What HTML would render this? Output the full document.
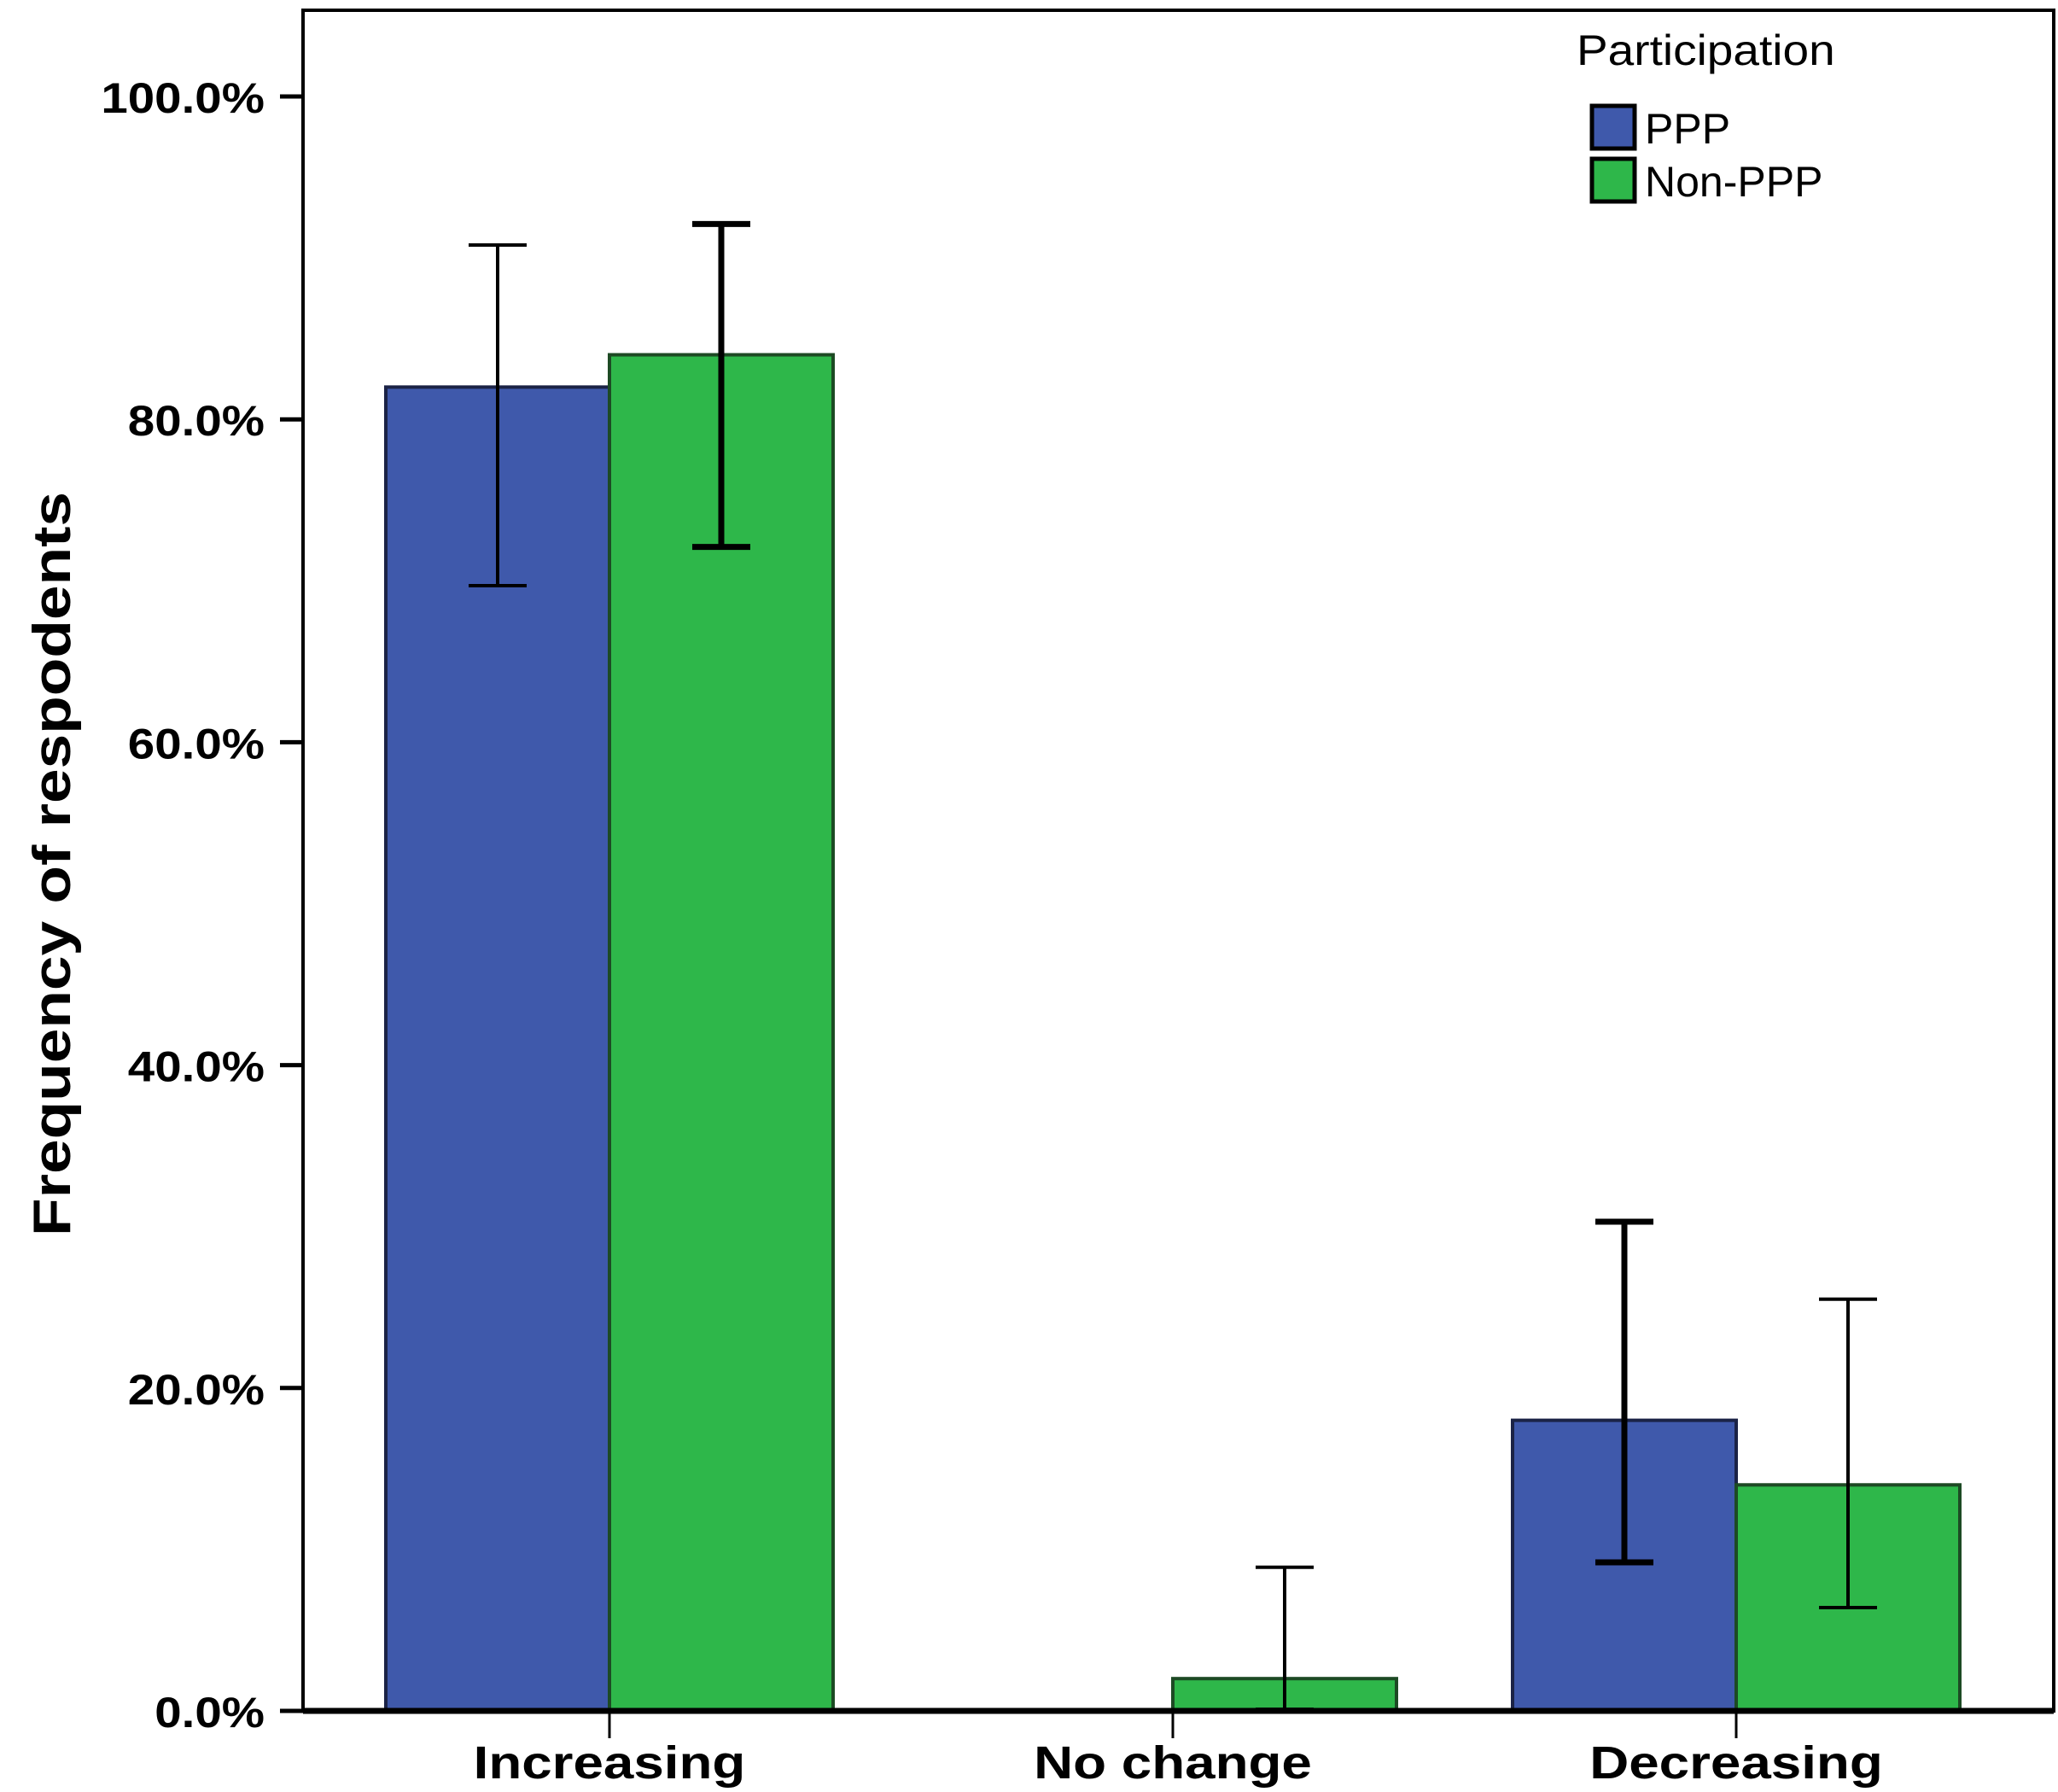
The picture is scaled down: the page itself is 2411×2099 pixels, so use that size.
<!DOCTYPE html>
<html><head><meta charset="utf-8"><style>html,body{margin:0;padding:0;background:#fff}svg{display:block}</style></head>
<body>
<svg id="chart" width="2411" height="2099" viewBox="0 0 2411 2099" xmlns="http://www.w3.org/2000/svg" font-family="'Liberation Sans', sans-serif">
<rect x="0" y="0" width="2411" height="2099" fill="#fff"/>
<g id="plot"></g>
</svg>
<script>
const categories = ["Increasing", "No change", "Decreasing"];
const seriesNames = ["PPP", "Non-PPP"];
const pppValues = [82.0, 0, 18.0];
const nonPppValues = [84.0, 2.0, 14.0];
const pppLow = [69.7, null, 9.2];
const pppHigh = [90.8, null, 30.3];
const nonPppLow = [72.1, 0.1, 6.4];
const nonPppHigh = [92.1, 8.9, 25.5];
const yTicks = [0, 20, 40, 60, 80, 100];
const yTickLabels = ["0.0%", "20.0%", "40.0%", "60.0%", "80.0%", "100.0%"];

const NS = "http://www.w3.org/2000/svg";
const g = document.getElementById("plot");
const X0 = 355, X1 = 2406, Y0 = 2004, YTOP = 12, Y100 = 113;
function y(v){ return Y0 - (Y0 - Y100) * v / 100; }
const catStep = 660, catStart = 714, barW = 262;
function xc(i){ return catStart + i * catStep; }
function el(tag, attrs, parent){ const e = document.createElementNS(NS, tag); for (const k in attrs) e.setAttribute(k, attrs[k]); (parent||g).appendChild(e); return e; }
function stretch(t, f){ const w = t.getComputedTextLength(); t.setAttribute("textLength", w * f); t.setAttribute("lengthAdjust", "spacingAndGlyphs"); }

const frame = el("rect", {x:X0, y:YTOP, width:X1-X0, height:Y0-YTOP, fill:"none", stroke:"#000", "stroke-width":4});



const colors = ["#3f59ab", "#2eb74a"];
const strokes = ["#1b2346", "#1d4a24"];
const values = [pppValues, nonPppValues];
const lows = [pppLow, nonPppLow];
const highs = [pppHigh, nonPppHigh];

for (let s = 0; s < 2; s++) {
  for (let i = 0; i < categories.length; i++) {
    const v = values[s][i];
    const bx = s === 0 ? xc(i) - barW : xc(i);
    if (v > 0) {
      const r = el("rect", {x:bx, y:y(v), width:barW, height:Y0 - y(v), fill:colors[s], stroke:strokes[s], "stroke-width":4});
      
      
    }
    if (lows[s][i] !== null) {
      const cx = bx + barW / 2;
      const thick = (s === 0 && i === 2) || (s === 1 && i === 0) ? 7 : 4;
      const eg = el("g", {stroke:"#000", "stroke-width":thick});
      
      
      el("line", {x1:cx, x2:cx, y1:y(lows[s][i]), y2:y(highs[s][i])}, eg);
      el("line", {x1:cx-34, x2:cx+34, y1:y(lows[s][i]), y2:y(lows[s][i])}, eg);
      el("line", {x1:cx-34, x2:cx+34, y1:y(highs[s][i]), y2:y(highs[s][i])}, eg);
    }
  }
}

const xa = el("line", {x1:X0, x2:X1, y1:Y0, y2:Y0, stroke:"#000", "stroke-width":7});



for (let i = 0; i < yTicks.length; i++) {
  const ty = y(yTicks[i]);
  const t = el("line", {x1:328, x2:X0, y1:ty, y2:ty, stroke:"#000", "stroke-width":5});
  
  
  const lb = el("text", {x:310, y:ty + 19, "text-anchor":"end", "font-size":50, "font-weight":"bold", fill:"#000"});
  lb.textContent = yTickLabels[i];
  
  
  stretch(lb, 1.13);
}
for (let i = 0; i < categories.length; i++) {
  const t = el("line", {x1:xc(i), x2:xc(i), y1:Y0, y2:2036, stroke:"#000", "stroke-width":3});
  
  
  const lb = el("text", {x:xc(i), y:2083, "text-anchor":"middle", "font-size":54, "font-weight":"bold", fill:"#000"});
  lb.textContent = categories[i];
  
  
  stretch(lb, 1.18);
}
const yt = el("text", {x:0, y:0, transform:"translate(82,1012) rotate(-90)", "text-anchor":"middle", "font-size":62, "font-weight":"bold", fill:"#000", textLength:872, lengthAdjust:"spacingAndGlyphs"});
yt.textContent = "Frequency of respodents";



const lt = el("text", {x:1847, y:76, "font-size":50, fill:"#000"});
lt.textContent = "Participation";


stretch(lt, 1.1);
for (let s = 0; s < 2; s++) {
  const ly = 124 + s * 62;
  const sw = el("rect", {x:1865, y:ly, width:50, height:50, fill:colors[s], stroke:"#000", "stroke-width":5});
  
  
  const tx = el("text", {x:1927, y:ly + 44, "font-size":50, fill:"#000"});
  tx.textContent = seriesNames[s];
  
  
}
</script>
</body></html>
